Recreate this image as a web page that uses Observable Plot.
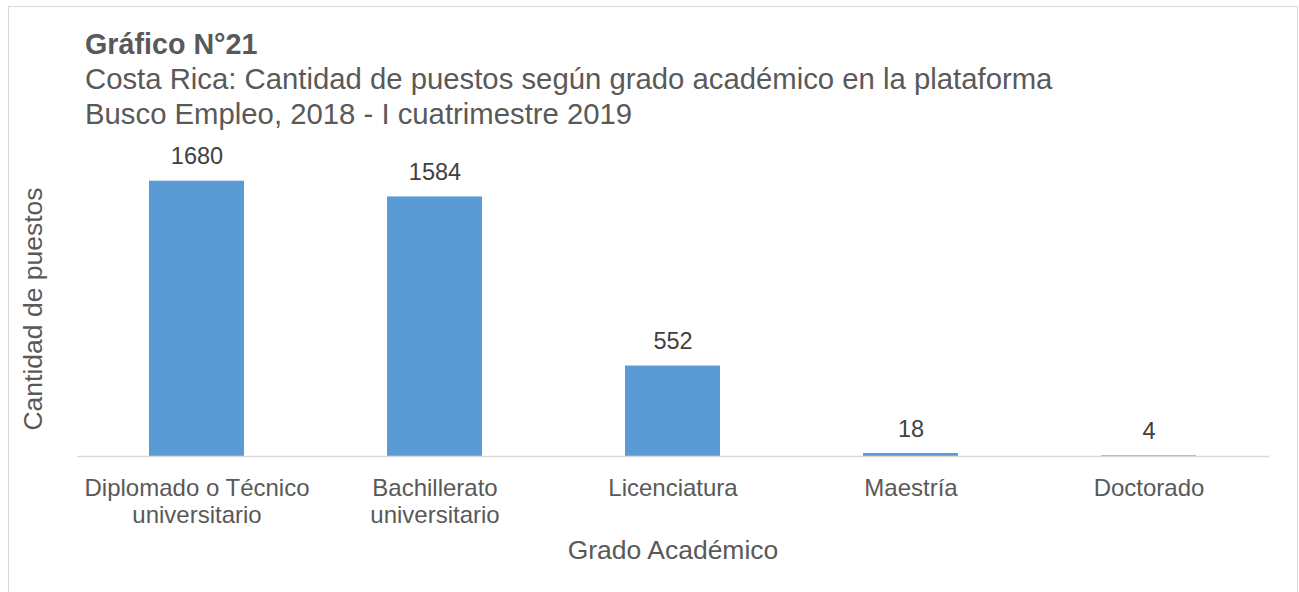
<!DOCTYPE html>
<html>
<head>
<meta charset="utf-8">
<script src="https://cdn.jsdelivr.net/npm/d3@7"></script>
<script src="https://cdn.jsdelivr.net/npm/@observablehq/plot@0.6"></script>
<style>
  html, body { margin: 0; padding: 0; background: #ffffff; }
  body { width: 1299px; height: 592px; overflow: hidden; position: relative;
         font-family: "Liberation Sans", Arial, Helvetica, sans-serif; color: #595959; }
  .frame { position: absolute; left: 8px; top: 6px; width: 1290px; height: 620px;
           border: 1px solid #d9d9d9; box-sizing: border-box; }
  .t { position: absolute; white-space: nowrap; line-height: 1; }
  #chart { position: absolute; left: 0; top: 130px; }
</style>
</head>
<body>
<div class="frame"></div>
<div class="t" style="left:85px; top:30px; font-size:28.7px; font-weight:bold;">Gráfico N°21</div>
<div class="t" style="left:85px; top:63.5px; font-size:29.3px;">Costa Rica: Cantidad de puestos según grado académico en la plataforma</div>
<div class="t" style="left:85px; top:98.5px; font-size:29.3px;">Busco Empleo, 2018 - I cuatrimestre 2019</div>
<div class="t" style="left:33px; top:309px; font-size:26.5px; transform: translate(-50%,-50%) rotate(-90deg);">Cantidad de puestos</div>
<div class="t" style="left:673px; top:537px; font-size:26.5px; transform: translateX(-50%);">Grado Académico</div>
<div id="chart"></div>
<script>
const categories = ["Diplomado o Técnico\nuniversitario", "Bachillerato\nuniversitario", "Licenciatura", "Maestría", "Doctorado"];
const values = [1680, 1584, 552, 18, 4];

const data = categories.map((c, i) => ({cat: c, value: values[i]}));

const chart = Plot.plot({
  width: 1299,
  height: 462,
  marginLeft: 77,
  marginRight: 30,
  marginTop: 31,
  marginBottom: 136,
  style: {fontFamily: '"Liberation Sans", Arial, sans-serif', color: "#595959", background: "transparent"},
  x: {domain: categories, paddingInner: 0.6, paddingOuter: 0.3, label: null},
  y: {domain: [0, 1800], axis: null},
  marks: [
    Plot.barY(data, {x: "cat", y: "value", fill: "#5b9bd5"}),
    Plot.ruleY([0], {stroke: "#d9d9d9", strokeWidth: 1.5}),
    Plot.text(data, {x: "cat", y: "value", text: d => String(d.value), lineAnchor: "bottom", dy: -17, fontSize: 23.5, fill: "#404040"}),
    Plot.axisX({tickSize: 0, tickPadding: 20, fontSize: 24, lineHeight: 1.13, fill: "#595959", label: null})
  ]
});
document.getElementById("chart").appendChild(chart);
</script>
</body>
</html>
